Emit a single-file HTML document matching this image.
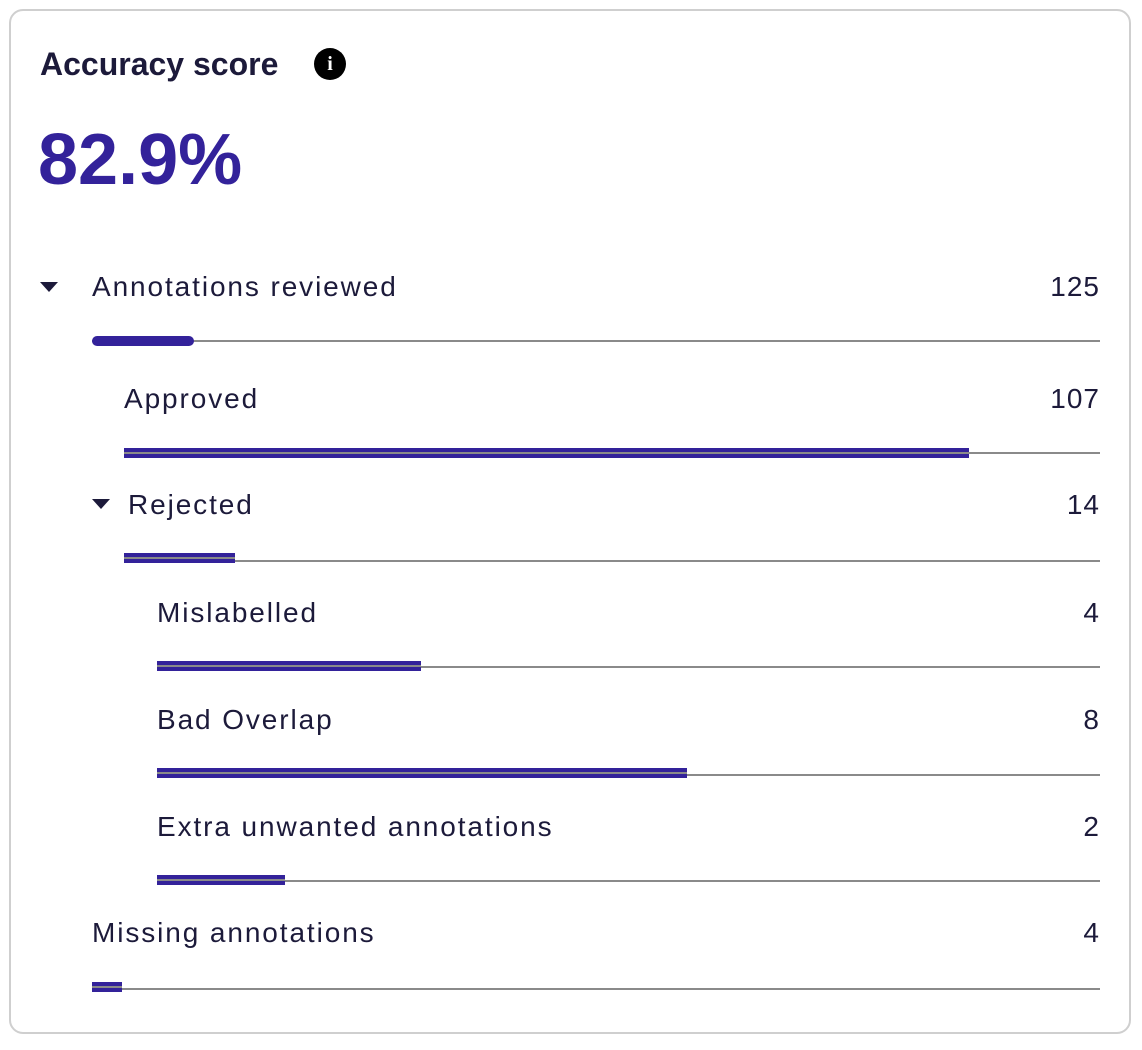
<!DOCTYPE html>
<html><head><style>
body{margin:0;width:1142px;height:1050px;background:#fff;font-family:"Liberation Sans",sans-serif;color:#1c1a3a;position:relative;overflow:hidden}
.card{position:absolute;left:9px;top:9px;width:1122px;height:1025px;border:2px solid #cfcfcf;border-radius:14px;box-sizing:border-box}
.t{position:absolute;font-size:28px;line-height:34px;white-space:nowrap;letter-spacing:1.9px}
.r{position:absolute;right:42px;font-size:28px;line-height:34px;text-align:right;letter-spacing:1px}
.line{position:absolute;right:42px;height:2px;background:#8a8a8a}
.bar{position:absolute;height:10px;background:#33229a}
.bar.s:after{content:"";position:absolute;left:0;right:0;top:4px;height:2px;background:#8a8a8a}
.tri{position:absolute;width:0;height:0;border-left:9px solid transparent;border-right:9px solid transparent;border-top:10px solid #1c1a3a}
</style></head><body>
<div class="card"></div>
<div class="t" style="left:40px;top:45px;font-size:32px;font-weight:bold;line-height:38px;letter-spacing:0">Accuracy score</div>
<div style="position:absolute;left:314px;top:48px;width:32px;height:32px;border-radius:50%;background:#000;color:#fff;font:bold 20px/32px 'Liberation Serif',serif;text-align:center">i</div>
<div class="t" style="left:38px;top:118px;font-size:72px;font-weight:bold;line-height:84px;color:#33229a;letter-spacing:0">82.9%</div>

<div class="tri" style="left:40px;top:282px"></div>
<div class="t" style="left:92px;top:270px">Annotations reviewed</div><div class="r" style="top:270px">125</div>
<div class="line" style="left:92px;top:340px"></div><div class="bar" style="left:92px;top:336px;width:102px;border-radius:5px"></div>

<div class="t" style="left:124px;top:382px">Approved</div><div class="r" style="top:382px">107</div>
<div class="line" style="left:124px;top:452px"></div><div class="bar s" style="left:124px;top:448px;width:845px"></div>

<div class="tri" style="left:92px;top:499px"></div>
<div class="t" style="left:128px;top:488px">Rejected</div><div class="r" style="top:488px">14</div>
<div class="line" style="left:124px;top:560px"></div><div class="bar s" style="left:124px;top:553px;width:111px"></div>

<div class="t" style="left:157px;top:596px">Mislabelled</div><div class="r" style="top:596px">4</div>
<div class="line" style="left:157px;top:666px"></div><div class="bar s" style="left:157px;top:661px;width:264px"></div>

<div class="t" style="left:157px;top:703px">Bad Overlap</div><div class="r" style="top:703px">8</div>
<div class="line" style="left:157px;top:774px"></div><div class="bar s" style="left:157px;top:768px;width:530px"></div>

<div class="t" style="left:157px;top:810px">Extra unwanted annotations</div><div class="r" style="top:810px">2</div>
<div class="line" style="left:157px;top:880px"></div><div class="bar s" style="left:157px;top:875px;width:128px"></div>

<div class="t" style="left:92px;top:916px">Missing annotations</div><div class="r" style="top:916px">4</div>
<div class="line" style="left:92px;top:988px"></div><div class="bar s" style="left:92px;top:982px;width:30px"></div>
</body></html>
